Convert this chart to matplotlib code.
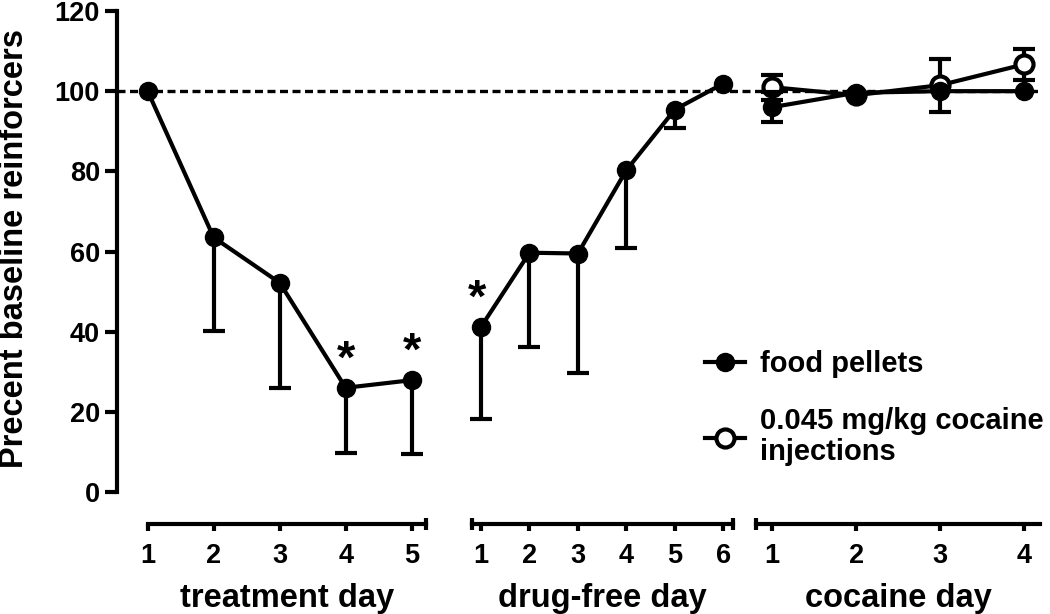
import matplotlib.pyplot as plt
import matplotlib.transforms as mtransforms
import numpy as np

plt.rcParams['font.family'] = ['Liberation Sans', 'DejaVu Sans']
plt.rcParams['font.weight'] = 'bold'
plt.rcParams['axes.labelweight'] = 'bold'

# treatment days, food pellets only (lower SEM shown)
treat_days = [1, 2, 3, 4, 5]
treat_mean = [100, 63.5, 52.2, 26.0, 27.9]
treat_err = [0, 23.4, 26.3, 16.2, 18.4]
treat_stars = [4, 5]

# drug-free days
free_days = [1, 2, 3, 4, 5, 6]
free_mean = [41.2, 59.7, 59.5, 80.3, 95.4, 101.9]
free_err = [23.1, 23.6, 29.7, 19.5, 4.5, 0]
free_stars = [1]

# cocaine days, both groups (+/- SEM)
coc_days = [1, 2, 3, 4]
coc_food_mean = [96.0, 99.6, 100.0, 100.0]
coc_food_err = [3.8, 0, 0, 0]
coc_inj_mean = [101.0, 99.0, 101.5, 106.7]
coc_inj_err = [3.1, 0, 6.6, 3.9]

labels = ['treatment day', 'drug-free day', 'cocaine day']
legend_labels = ['food pellets', '0.045 mg/kg cocaine\ninjections']

W, H = 1050, 614
fig = plt.figure(figsize=(W / 100, H / 100), dpi=100)

# pixel extents of the three panels, x limits and axis-line bounds
seg_px = [(117, 445), (445, 745), (745, 1045)]
seg_xlim = [(0.535, 5.505), (0.257, 6.448), (0.679, 4.246)]
seg_bounds = [(1, 5.217), (0.808, 6.206), (0.81, 4.187)]
seg_caps = [[5.217], [0.808, 6.206], [0.81]]
seg_ticks = [treat_days, free_days, coc_days]

y0_px, y120_px = 492, 11
bottom = (H - y0_px) / H
height = (y0_px - y120_px) / H

LW = 3.0
MS = 13
CAP = 7.9
OUT = 23

axes = []
for i, (x0, x1) in enumerate(seg_px):
    ax = fig.add_axes([x0 / W, bottom, (x1 - x0) / W, height],
                      sharey=axes[0] if axes else None)
    ax.patch.set_visible(False)
    ax.set_xlim(*seg_xlim[i])
    ax.set_ylim(0, 120)
    for s in ['top', 'right']:
        ax.spines[s].set_visible(False)
    ax.spines['bottom'].set_position(('outward', OUT))
    ax.spines['bottom'].set_bounds(*seg_bounds[i])
    ax.spines['bottom'].set_linewidth(LW)
    ax.set_xticks(seg_ticks[i])
    ax.tick_params(axis='x', length=5, width=LW, pad=9, labelsize=19.5)
    if i == 0:
        ax.spines['left'].set_linewidth(LW)
        ax.set_yticks(np.arange(0, 121, 20))
        ax.tick_params(axis='y', length=8.6, width=LW, pad=3.6, labelsize=19.5)
    else:
        ax.spines['left'].set_visible(False)
        ax.tick_params(axis='y', left=False, labelleft=False)
    # break marks at ends of the axis line
    tr = mtransforms.offset_copy(ax.get_xaxis_transform(), fig=fig,
                                 y=-OUT, units='points')
    for xb in seg_caps[i]:
        ax.plot([xb], [0], marker='|', ms=9, mew=LW, color='k',
                transform=tr, clip_on=False)
    xc = (np.mean(seg_bounds[i]) - seg_xlim[i][0]) / (seg_xlim[i][1] - seg_xlim[i][0])
    ax.set_xlabel(labels[i], fontsize=23.5, fontweight='bold')
    ax.xaxis.set_label_coords(xc, (y0_px - 583) / (y0_px - y120_px))
    axes.append(ax)

ax1, ax2, ax3 = axes

# baseline reference line across all panels
ax1.axhline(100, xmin=0, xmax=(1040 - 117) / (445 - 117), color='k',
            lw=2.4, dashes=(2.4, 1.35), clip_on=False, zorder=1)
ax1.set_ylabel('Precent baseline reinforcers', fontsize=23.5, fontweight='bold',
               va='center')
ax1.yaxis.set_label_coords((15 - 117) / (445 - 117), (y0_px - 249) / (y0_px - y120_px))


def lower_bars(ax, x, y, err):
    x, y, err = map(np.asarray, (x, y, err))
    m = err > 0
    _, caps, _ = ax.errorbar(x[m], y[m], yerr=[err[m], np.zeros(m.sum())],
                             fmt='none', ecolor='k', elinewidth=LW,
                             capsize=CAP, capthick=LW, zorder=2)
    for c in caps:
        if np.allclose(c.get_ydata(), y[m]):
            c.set_visible(False)


def both_bars(ax, x, y, err, z):
    x, y, err = map(np.asarray, (x, y, err))
    m = err > 0
    ax.errorbar(x[m], y[m], yerr=err[m], fmt='none', ecolor='k',
                elinewidth=LW, capsize=CAP, capthick=LW, zorder=z)


def stars(ax, days, xs, ys, dx=0):
    for d in days:
        k = list(xs).index(d)
        ax.annotate('*', (xs[k], ys[k]), xytext=(dx, 4), textcoords='offset points',
                    ha='center', va='bottom', fontsize=34, fontweight='bold')


# treatment
lower_bars(ax1, treat_days, treat_mean, treat_err)
ax1.plot(treat_days, treat_mean, color='k', lw=LW, marker='o', ms=MS, zorder=3)
stars(ax1, treat_stars, treat_days, treat_mean)

# drug-free
lower_bars(ax2, free_days, free_mean, free_err)
ax2.plot(free_days, free_mean, color='k', lw=LW, marker='o', ms=MS, zorder=3)
stars(ax2, free_stars, free_days, free_mean, dx=-3)

# cocaine
both_bars(ax3, coc_days, coc_inj_mean, coc_inj_err, 2)
inj_line, = ax3.plot(coc_days, coc_inj_mean, color='k', lw=LW, marker='o', ms=MS,
                     mfc='white', mec='k', mew=LW, zorder=3)
both_bars(ax3, coc_days, coc_food_mean, coc_food_err, 4)
food_line, = ax3.plot(coc_days, coc_food_mean, color='k', lw=LW, marker='o', ms=MS,
                      zorder=5)

leg = fig.legend([food_line, inj_line], legend_labels, loc='upper left',
                 bbox_to_anchor=(705 / W, 1 - 350 / H), frameon=False,
                 fontsize=21, handlelength=1.37, handletextpad=0.52,
                 borderpad=0, borderaxespad=0, labelspacing=1.0)
for t in leg.get_texts():
    t.set_linespacing(1.15)

fig.savefig('out.png', dpi=100)
